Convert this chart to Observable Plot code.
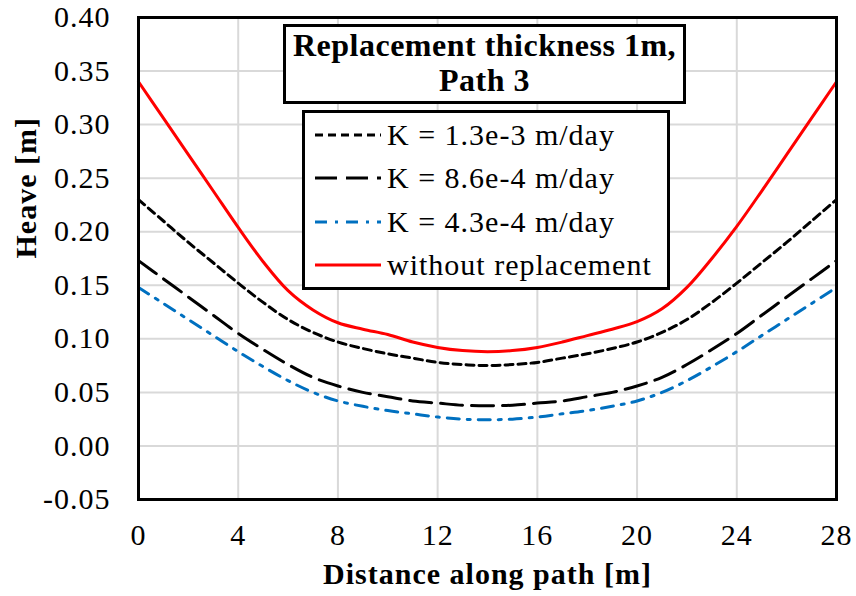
<!DOCTYPE html>
<html><head><meta charset="utf-8">
<script src="https://cdn.jsdelivr.net/npm/d3@7"></script>
<script src="https://cdn.jsdelivr.net/npm/@observablehq/plot@0.6"></script>
<style>
body{margin:0;background:#fff;}
#wrap{position:relative;width:856px;height:596px;font-family:"Liberation Serif","Times New Roman",Times,"DejaVu Serif",serif;color:#000;}
.box{position:absolute;box-sizing:border-box;border:3px solid #000;background:#fff;}
#titlebox{left:283px;top:24px;width:403px;height:80px;text-align:center;font-weight:bold;font-size:32px;line-height:35px;letter-spacing:0.5px;padding-top:1px;}
#legend{left:302px;top:110px;width:368px;height:180px;padding-left:10px;}
.row{display:flex;align-items:center;height:43.5px;font-size:30px;letter-spacing:1px;white-space:nowrap;}
.row svg{margin-right:6px;flex:none;}
svg text{font-family:"Liberation Serif","Times New Roman",Times,"DejaVu Serif",serif;}
</style></head><body><div id="wrap"></div>
<script>
// Data
const distance = [0,1,2,3,4,5,6,7,8,9,10,11,12,13,14,15,16,17,18,19,20,21,22,23,24,25,26,27,28];
const heaveK13e3 = [0.230,0.210,0.190,0.171,0.152,0.134,0.118,0.106,0.097,0.091,0.086,0.082,0.078,0.076,0.075,0.076,0.078,0.082,0.086,0.091,0.097,0.106,0.118,0.134,0.152,0.171,0.190,0.210,0.230];
const heaveK86e4 = [0.173,0.156,0.139,0.122,0.105,0.090,0.076,0.064,0.056,0.050,0.046,0.042,0.040,0.038,0.0375,0.038,0.040,0.042,0.046,0.050,0.056,0.064,0.076,0.090,0.105,0.122,0.139,0.156,0.173];
const heaveK43e4 = [0.148,0.133,0.118,0.103,0.088,0.074,0.061,0.050,0.042,0.037,0.033,0.030,0.027,0.025,0.0245,0.025,0.027,0.030,0.033,0.037,0.042,0.050,0.061,0.074,0.088,0.103,0.118,0.133,0.148];
const heaveNoRepl = [0.340,0.306,0.272,0.238,0.204,0.172,0.145,0.127,0.115,0.109,0.104,0.097,0.092,0.089,0.088,0.089,0.092,0.097,0.103,0.109,0.116,0.128,0.148,0.175,0.205,0.238,0.272,0.306,0.340];

const seriesNames = ["K = 1.3e-3 m/day","K = 8.6e-4 m/day","K = 4.3e-4 m/day","without replacement"];
const seriesValues = [heaveK13e3, heaveK86e4, heaveK43e4, heaveNoRepl];
const seriesColors = ["#000000","#000000","#0070c0","#ff0000"];
const seriesDash = ["8,5","22,9","12,8,3,8",null];

const xTicks = [0,4,8,12,16,20,24,28];
const yTicks = [-0.05,0,0.05,0.10,0.15,0.20,0.25,0.30,0.35,0.40];
const chartTitle = ["Replacement thickness 1m,","Path 3"];
const xLabel = "Distance along path [m]";
const yLabel = "Heave [m]";

const rows = [];
seriesNames.forEach((name,i)=>{
  distance.forEach((d,j)=>rows.push({series:name, idx:i, x:d, y:seriesValues[i][j]}));
});

const lineMarks = seriesNames.map((name,i)=>Plot.line(rows.filter(r=>r.idx===i),{
  x:"x", y:"y", stroke:seriesColors[i], strokeWidth:3,
  strokeDasharray:seriesDash[i]||undefined, curve:"catmull-rom"
}));

const FONT = '"Liberation Serif","Times New Roman",Times,"DejaVu Serif",serif';

const plot = Plot.plot({
  width:856, height:596,
  marginLeft:138, marginRight:20, marginTop:17, marginBottom:97,
  style:{fontFamily:FONT, fontSize:"30px", background:"#fff", color:"#000", letterSpacing:"1px"},
  x:{domain:[0,28]},
  y:{domain:[-0.05,0.40]},
  marks:[
    Plot.gridX(xTicks,{stroke:"#d9d9d9", strokeOpacity:1, strokeWidth:2}),
    Plot.gridY(yTicks,{stroke:"#d9d9d9", strokeOpacity:1, strokeWidth:2}),
    ...lineMarks,
    Plot.frame({stroke:"#000", strokeWidth:3}),
    Plot.axisX(xTicks,{tickSize:0, tickPadding:24, fontSize:30, label:null, tickFormat:d=>String(d)}),
    Plot.axisY(yTicks,{tickSize:0, tickPadding:28, fontSize:30, label:null, tickFormat:d=>d.toFixed(2)}),
    Plot.text([xLabel],{frameAnchor:"bottom", dy:84, fontWeight:"bold", fontSize:30, text:d=>d}),
    Plot.text([yLabel],{frameAnchor:"left", dx:-112, rotate:-90, fontWeight:"bold", fontSize:30, text:d=>d})
  ]
});

const wrap = document.getElementById("wrap");
wrap.appendChild(plot);

const tb = document.createElement("div");
tb.className="box"; tb.id="titlebox";
tb.innerHTML = chartTitle.join("<br>");
wrap.appendChild(tb);

const lg = document.createElement("div");
lg.className="box"; lg.id="legend";
seriesNames.forEach((name,i)=>{
  const r = document.createElement("div"); r.className="row";
  const ns="http://www.w3.org/2000/svg";
  const s = document.createElementNS(ns,"svg");
  s.setAttribute("width","66"); s.setAttribute("height","10");
  const l = document.createElementNS(ns,"line");
  l.setAttribute("x1","0"); l.setAttribute("x2","66"); l.setAttribute("y1","5"); l.setAttribute("y2","5");
  l.setAttribute("stroke",seriesColors[i]); l.setAttribute("stroke-width","3");
  if(seriesDash[i]) l.setAttribute("stroke-dasharray",seriesDash[i]);
  s.appendChild(l); r.appendChild(s);
  const t = document.createElement("span"); t.textContent=name; r.appendChild(t);
  lg.appendChild(r);
});
wrap.appendChild(lg);
</script></body></html>
